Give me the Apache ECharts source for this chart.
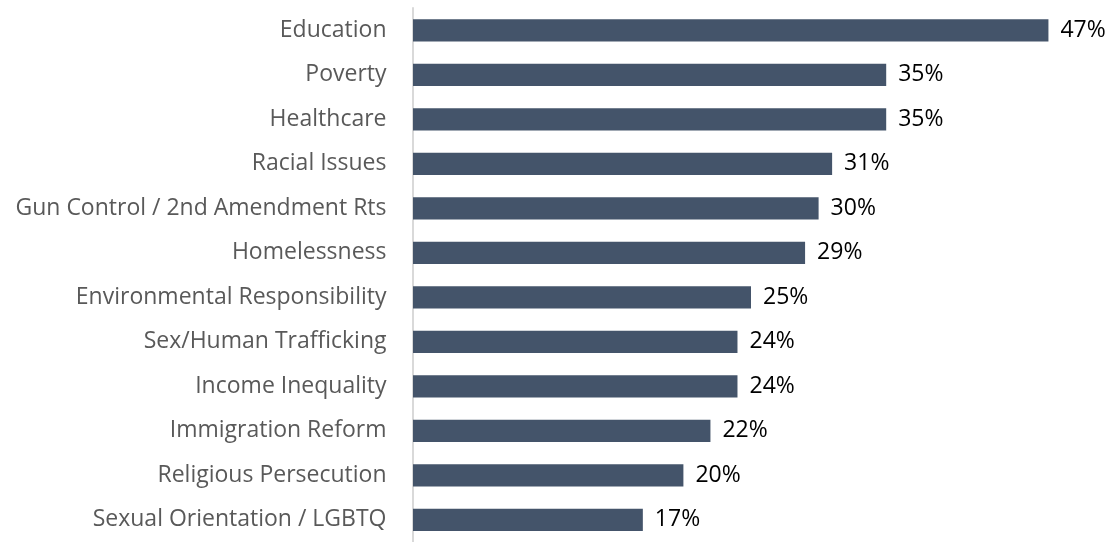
<!DOCTYPE html>
<html>
<head>
<meta charset="utf-8">
<script src="https://cdn.jsdelivr.net/npm/echarts@6/dist/echarts.min.js"></script>
<style>
html,body{margin:0;padding:0;background:#fff;}
#c{width:1112px;height:542px;}
</style>
</head>
<body>
<div id="c"></div>
<script>
const categories = [
  'Education',
  'Poverty',
  'Healthcare',
  'Racial Issues',
  'Gun Control / 2nd Amendment Rts',
  'Homelessness',
  'Environmental Responsibility',
  'Sex/Human Trafficking',
  'Income Inequality',
  'Immigration Reform',
  'Religious Persecution',
  'Sexual Orientation / LGBTQ'
];
const values = [47, 35, 35, 31, 30, 29, 25, 24, 24, 22, 20, 17];

const chart = echarts.init(document.getElementById('c'), null, {renderer: 'canvas'});
chart.setOption({
  backgroundColor: '#ffffff',
  animation: false,
  grid: {left: 413, right: 23, top: 8, bottom: -4, containLabel: false},
  xAxis: {
    type: 'value',
    min: 0,
    max: 50,
    show: false
  },
  yAxis: {
    type: 'category',
    inverse: true,
    data: categories,
    offset: 1.5,
    axisLine: {show: true, lineStyle: {color: '#d9d9d9', width: 2}},
    axisTick: {show: false},
    splitLine: {show: false},
    axisLabel: {
      margin: 25,
      color: '#595959',
      fontFamily: 'Open Sans',
      fontSize: 23
    }
  },
  series: [{
    type: 'bar',
    data: values,
    barCategoryGap: '50%',
    itemStyle: {color: '#44546a'},
    label: {
      show: true,
      position: 'right',
      distance: 12,
      formatter: p => p.value + '%',
      color: '#000000',
      fontFamily: 'Open Sans',
      fontSize: 23
    }
  }]
});
</script>
</body>
</html>
